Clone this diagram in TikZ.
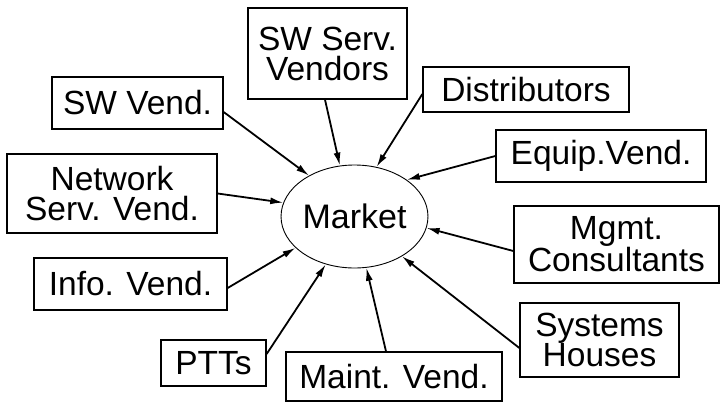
\documentclass[tikz,border=0pt]{standalone}
\usepackage{fontspec}
\setmainfont{Liberation Sans}
\usetikzlibrary{arrows.meta,shapes.geometric}
\begin{document}
\begin{tikzpicture}[x=1pt,y=-1pt,
  box/.style={draw,line width=1.3pt,align=center,inner sep=0pt,
    font=\fontsize{33.5}{30}\selectfont},
  arr/.style={line width=1.8pt,-{Latex[length=13pt,width=7pt]}}]
\useasboundingbox (0,0) rectangle (722,402);
\node[draw,ellipse,line width=0.9pt,minimum width=129pt,minimum height=103pt,inner sep=0pt,
  font=\fontsize{34}{30}\selectfont] (market) at (354.5,216.5) {Market};
\node[box,minimum width=159pt,minimum height=91pt] (swserv) at (327.5,53.5) {SW Serv.\\Vendors};
\node[box,minimum width=171pt,minimum height=52pt] (swvend) at (137.5,103) {SW Vend.};
\node[box,minimum width=206pt,minimum height=45pt] (dist) at (526,89.5) {Distributors};
\node[box,minimum width=210pt,minimum height=52pt] (equip) at (601,156) {Equip.Vend.};
\node[box,minimum width=210pt,minimum height=79pt] (network) at (112,193.5) {Network\\Serv. Vend.};
\node[box,minimum width=205pt,minimum height=77pt] (mgmt) at (616.5,244.5) {Mgmt.\\Consultants};
\node[box,minimum width=193pt,minimum height=52pt] (info) at (130.5,284) {Info. Vend.};
\node[box,minimum width=159pt,minimum height=74pt] (systems) at (599.5,340) {Systems\\Houses};
\node[box,minimum width=105pt,minimum height=46pt] (ptts) at (213.5,363) {PTTs};
\node[box,minimum width=216pt,minimum height=49pt] (maint) at (394,376.5) {Maint. Vend.};
\draw[arr] ([yshift=-9pt]swvend.east) -- (market.138);
\draw[arr] ([xshift=-2.5pt]swserv.south) -- (market.106);
\draw[arr] ([yshift=-4.5pt]dist.west) -- (market.66);
\draw[arr] (equip.west) -- (market.35);
\draw[arr] (network.east) -- (market.169);
\draw[arr] ([yshift=-6.5pt]mgmt.west) -- (market.-9);
\draw[arr] ([yshift=-4pt]info.east) -- (market.208);
\draw[arr] ([yshift=9pt]ptts.east) -- (market.239);
\draw[arr] ([xshift=-8pt]maint.north) -- (market.283);
\draw[arr] ([yshift=-8pt]systems.west) -- (market.-40);
\end{tikzpicture}
\end{document}
